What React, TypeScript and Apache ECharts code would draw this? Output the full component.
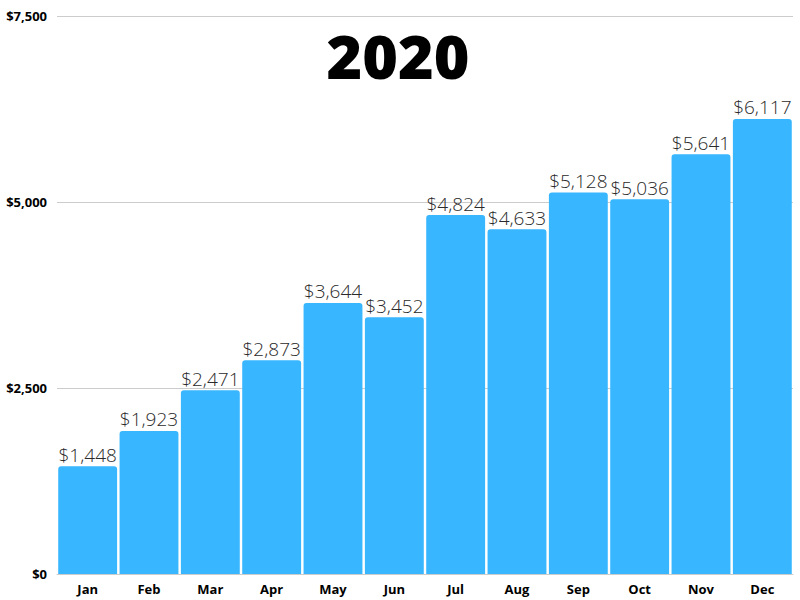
import React, { useEffect, useRef } from "react";
import * as echarts from "echarts";

const months = ["Jan", "Feb", "Mar", "Apr", "May", "Jun", "Jul", "Aug", "Sep", "Oct", "Nov", "Dec"];
const values = [1448, 1923, 2471, 2873, 3644, 3452, 4824, 4633, 5128, 5036, 5641, 6117];
const title = "2020";

const fmt = (v: number) => "$" + v.toLocaleString("en-US");

export default function App() {
  const ref = useRef<HTMLDivElement>(null);
  useEffect(() => {
    if (!ref.current) return;
    const chart = echarts.init(ref.current, undefined, { renderer: "svg" });
    chart.setOption({
      animation: false,
      backgroundColor: "#ffffff",
      title: {
        text: title,
        left: 393,
        top: 50,
        textAlign: "center",
        textVerticalAlign: "middle",
        textStyle: {
          fontFamily: "Open Sans",
          fontWeight: 800,
          fontSize: 61,
          color: "#000000",
        },
      },
      grid: { left: 57, right: 7, top: 16, bottom: 26, containLabel: false },
      xAxis: {
        type: "category",
        data: months,
        axisLine: { show: true, lineStyle: { color: "#cccccc" } },
        axisTick: { show: false },
        axisLabel: {
          fontFamily: "Open Sans",
          fontWeight: "bold",
          fontSize: 13,
          color: "#000000",
          margin: 8,
        },
      },
      yAxis: {
        type: "value",
        min: 0,
        max: 7500,
        interval: 2500,
        axisLine: { show: false },
        axisTick: { show: false },
        splitLine: { lineStyle: { color: "#cccccc" } },
        axisLabel: {
          fontFamily: "Open Sans",
          fontWeight: "bold",
          fontSize: 13,
          color: "#000000",
          margin: 10,
          formatter: (v: number) => fmt(v),
        },
      },
      series: [
        {
          type: "bar",
          data: values,
          barCategoryGap: "4%",
          itemStyle: { color: "#38B6FF", borderRadius: [3, 3, 0, 0] },
          label: {
            show: true,
            position: "top",
            distance: 2,
            fontFamily: "Open Sans",
            fontWeight: 300,
            fontSize: 19,
            color: "#2a2a2a",
            formatter: (p: any) => fmt(p.value),
          },
        },
      ],
    });
    return () => chart.dispose();
  }, []);
  return (
    <div
      ref={ref}
      style={{ position: "fixed", left: 0, top: 0, width: 800, height: 600 }}
    />
  );
}
